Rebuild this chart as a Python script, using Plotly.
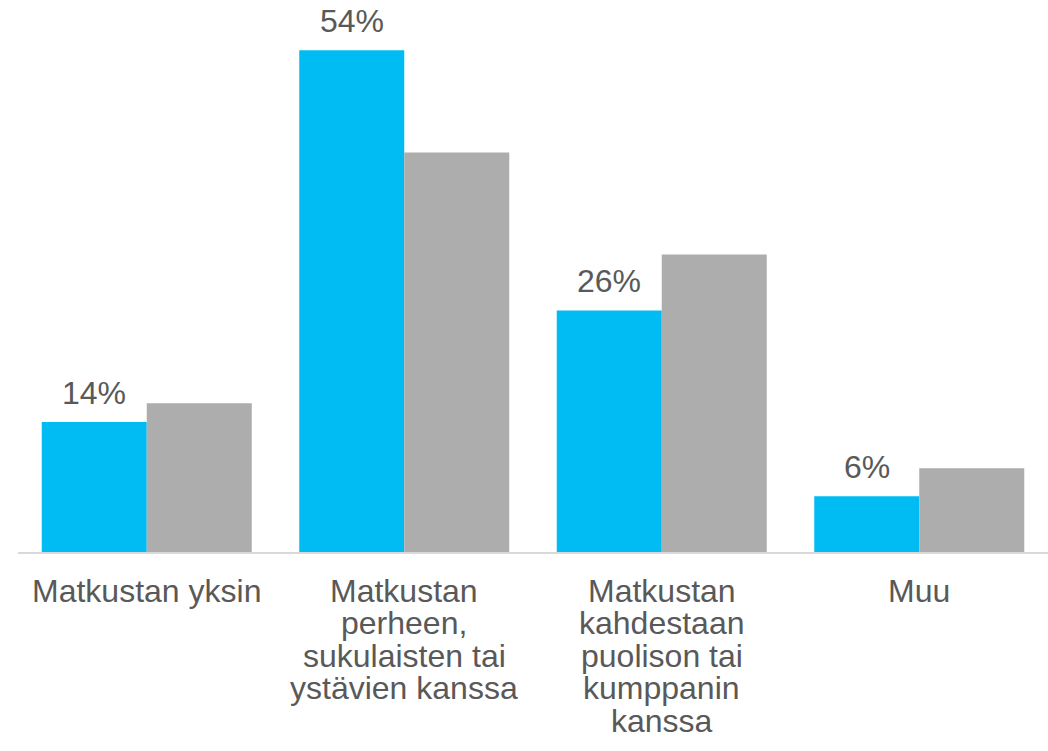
import plotly.graph_objects as go

categories = ["Matkustan yksin",
              "Matkustan<br>perheen,<br>sukulaisten tai<br>ystävien kanssa",
              "Matkustan<br>kahdestaan<br>puolison tai<br>kumppanin<br>kanssa",
              "Muu"]
series_a = [14, 54, 26, 6]   # blue, labelled
series_b = [16, 43, 32, 9]   # gray
label_a = ["14%", "54%", "26%", "6%"]

BLUE = "#00BCF2"
GRAY = "#ADADAD"
TXT = "#595959"
FONT = "Liberation Sans, Arial, sans-serif"
FS = 32
BARGAP = 0.1845

xs = list(range(len(categories)))

fig = go.Figure()
fig.add_trace(go.Bar(x=xs, y=series_a, marker=dict(color=BLUE, line=dict(width=0)), name="A"))
fig.add_trace(go.Bar(x=xs, y=series_b, marker=dict(color=GRAY, line=dict(width=0)), name="B"))

annotations = []
# data labels above blue bars
bar_w = (1 - BARGAP) / 2
for i, (v, t) in enumerate(zip(series_a, label_a)):
    annotations.append(dict(x=i - bar_w / 2, y=v, xref="x", yref="y", text=t,
                            showarrow=False, yanchor="middle", xanchor="center",
                            yshift=29, font=dict(family=FONT, size=FS, color=TXT)))
# category labels, one annotation per line for tight spacing
for i, cat in enumerate(categories):
    for j, line in enumerate(cat.split("<br>")):
        annotations.append(dict(x=i, y=0, xref="x", yref="y", text=line,
                                showarrow=False, yanchor="middle", xanchor="center",
                                yshift=-(38.5 + 32.5 * j),
                                font=dict(family=FONT, size=FS, color=TXT)))

fig.update_layout(
    width=1048, height=751,
    margin=dict(l=18, r=0, t=13, b=199),
    barmode="group", bargap=BARGAP, bargroupgap=0,
    showlegend=False,
    plot_bgcolor="white", paper_bgcolor="white",
    annotations=annotations,
    font=dict(family=FONT, size=FS, color=TXT),
)
fig.update_xaxes(range=[-0.5, 3.5], showticklabels=False, showgrid=False, zeroline=False,
                 showline=True, linecolor="#D9D9D9", linewidth=2, ticks="")
fig.update_yaxes(range=[0, 58], visible=False, showgrid=False, zeroline=False)

fig.write_html("out.html", config={"displayModeBar": False},
               post_script="document.body.style.margin='0';document.body.style.overflow='hidden';")
